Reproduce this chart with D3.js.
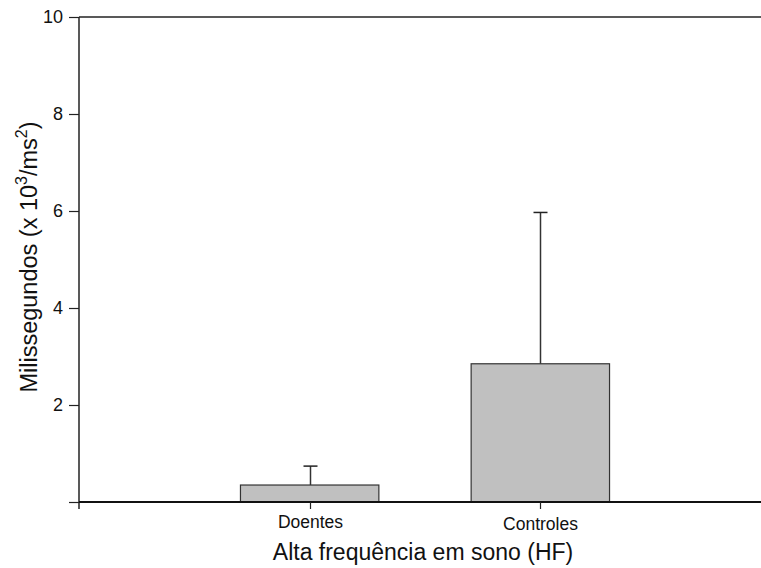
<!DOCTYPE html>
<html>
<head>
<meta charset="utf-8">
<script src="https://cdn.jsdelivr.net/npm/d3@7"></script>
<style>
  body { margin: 0; background: #fff; }
  svg { display: block; font-family: "Liberation Sans", Arial, sans-serif; }
</style>
</head>
<body>
<svg id="chart" width="761" height="568"></svg>
<script>
// Group labels, bar means and upper error (mean + SD)
const categories = ["Doentes", "Controles"];
const means = [0.35, 2.85];
const errTops = [0.74, 5.97];
const yTicks = [2, 4, 6, 8, 10];

const svg = d3.select("#chart");
const x0 = 79, y0 = 502, yTop = 17;

const y = d3.scaleLinear().domain([0, 10]).range([y0, yTop]);
const x = d3.scaleLinear().domain([0, 3]).range([x0, 771]);
const barW = 0.6;

// Frame: top line and x axis run off to the right edge
svg.append("line").attr("x1", x0).attr("x2", 761).attr("y1", yTop).attr("y2", yTop)
  .attr("stroke", "#222").attr("stroke-width", 1.5);

// Bars
svg.selectAll("rect.bar").data(categories).enter().append("rect")
  .attr("class", "bar")
  .attr("x", (d, i) => x(i + 1 - barW / 2))
  .attr("width", (d, i) => x(i + 1 + barW / 2) - x(i + 1 - barW / 2))
  .attr("y", (d, i) => y(means[i]))
  .attr("height", (d, i) => y(0) - y(means[i]))
  .attr("fill", "#c0c0c0").attr("stroke", "#333").attr("stroke-width", 1.2);

// Upper error bars
categories.forEach((c, i) => {
  const cx = Math.round(x(i + 1)) + 0.5;
  svg.append("line").attr("x1", cx).attr("x2", cx)
    .attr("y1", y(means[i])).attr("y2", y(errTops[i]))
    .attr("stroke", "#333").attr("stroke-width", 1.5);
  svg.append("line").attr("x1", cx - 7).attr("x2", cx + 7)
    .attr("y1", y(errTops[i])).attr("y2", y(errTops[i]))
    .attr("stroke", "#222").attr("stroke-width", 1.5);
});

// Y axis
const yAxis = d3.axisLeft(y).tickValues([0].concat(yTicks))
  .tickFormat(d => d === 0 ? "" : d).tickSize(10).tickPadding(6).tickSizeOuter(0);
const gy = svg.append("g").attr("transform", `translate(${x0},0)`).call(yAxis);
gy.select(".domain").remove();
gy.selectAll(".tick line").attr("stroke", "#222").attr("stroke-width", 1.2);
gy.selectAll(".tick text").attr("font-size", 18).attr("fill", "#111")
  .attr("font-family", "Liberation Sans, Arial, sans-serif");
svg.append("line").attr("x1", x0).attr("x2", x0).attr("y1", yTop).attr("y2", y0 + 7)
  .attr("stroke", "#222").attr("stroke-width", 1.5);

// X axis
svg.append("line").attr("x1", x0).attr("x2", 761).attr("y1", y0).attr("y2", y0)
  .attr("stroke", "#111").attr("stroke-width", 2);
categories.forEach((c, i) => {
  const cx = Math.round(x(i + 1)) + 0.5;
  svg.append("line").attr("x1", cx).attr("x2", cx).attr("y1", y0).attr("y2", y0 + 7)
    .attr("stroke", "#222").attr("stroke-width", 1.2);
  svg.append("text").attr("x", cx).attr("y", y0 + 26 + i * 2).attr("text-anchor", "middle")
    .attr("font-size", 17.5).attr("fill", "#111").text(c);
});

// Axis titles
svg.append("text").attr("x", 423).attr("y", 560).attr("text-anchor", "middle")
  .attr("font-size", 23).attr("fill", "#111").text("Alta frequência em sono (HF)");

const yt = svg.append("text").attr("transform", "translate(37,257) rotate(-90)")
  .attr("text-anchor", "middle").attr("font-size", 23.5).attr("fill", "#111");
yt.append("tspan").text("Milissegundos (x 10");
yt.append("tspan").attr("dy", -10).attr("font-size", 16).text("3");
yt.append("tspan").attr("dy", 10).text("/ms");
yt.append("tspan").attr("dy", -10).attr("font-size", 16).text("2");
yt.append("tspan").attr("dy", 10).text(")");
</script>
</body>
</html>
